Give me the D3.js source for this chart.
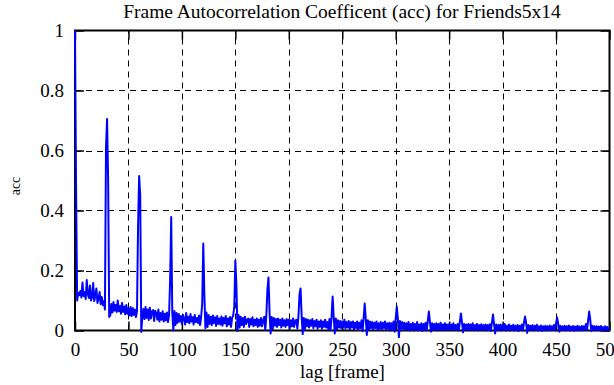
<!DOCTYPE html>
<html>
<head>
<meta charset="utf-8">
<script src="https://cdn.jsdelivr.net/npm/d3@7"></script>
<style>
  html, body { margin: 0; padding: 0; background: #fff; }
  svg { display: block; }
  text { font-family: "Liberation Serif", "Times New Roman", serif; fill: #000; }
</style>
</head>
<body>
<svg id="chart" width="614" height="385"></svg>
<script>
// ---- data ----
const title = "Frame Autocorrelation Coefficent (acc) for Friends5x14";
const xLabel = "lag [frame]";
const yLabel = "acc";
const xTicks = [0, 50, 100, 150, 200, 250, 300, 350, 400, 450, 500];
const yTicks = [0, 0.2, 0.4, 0.6, 0.8, 1];
const yTickLabels = ["0", "0.2", "0.4", "0.6", "0.8", "1"];
// acc value for lag 0, 1, 2, ... 500
const acc = [
  1.000, 0.480, 0.100, 0.125, 0.118, 0.132, 0.110, 0.160, 0.115, 0.128,
  0.105, 0.168, 0.122, 0.108, 0.150, 0.100, 0.112, 0.158, 0.098, 0.115,
  0.140, 0.092, 0.105, 0.128, 0.088, 0.112, 0.085, 0.098, 0.070, 0.610,
  0.705, 0.500, 0.045, 0.050, 0.088, 0.060, 0.095, 0.066, 0.085, 0.062,
  0.100, 0.064, 0.082, 0.056, 0.092, 0.062, 0.080, 0.054, 0.085, 0.056,
  0.074, 0.050, 0.078, 0.048, 0.075, 0.052, 0.070, 0.045, 0.065, 0.350,
  0.515, 0.450, -0.005, 0.045, 0.072, 0.038, 0.078, 0.042, 0.070, 0.035,
  0.076, 0.040, 0.064, 0.068, 0.032, 0.066, 0.058, 0.036, 0.070, 0.030,
  0.058, 0.036, 0.064, 0.030, 0.056, 0.034, 0.060, 0.028, 0.052, 0.170,
  0.378, 0.060, 0.000, 0.065, 0.018, 0.058, 0.025, 0.055, 0.030, 0.048,
  0.022, 0.052, 0.040, 0.020, 0.058, 0.028, 0.046, 0.024, 0.055, 0.030,
  0.044, 0.020, 0.052, 0.028, 0.042, 0.025, 0.050, 0.018, 0.045, 0.090,
  0.290, 0.120, 0.008, 0.060, 0.012, 0.052, 0.022, 0.046, 0.018, 0.050,
  0.025, 0.044, 0.015, 0.048, 0.022, 0.040, 0.020, 0.047, 0.016, 0.042,
  0.024, 0.048, 0.014, 0.040, 0.020, 0.045, 0.012, 0.042, 0.050, 0.080,
  0.233, 0.150, -0.002, 0.052, 0.010, 0.046, 0.018, 0.042, 0.012, 0.046,
  0.022, 0.035, 0.040, 0.012, 0.038, 0.020, 0.044, 0.014, 0.036, 0.018,
  0.040, 0.012, 0.036, 0.016, 0.042, 0.014, 0.034, 0.046, 0.002, 0.050,
  0.137, 0.177, 0.060, -0.010, 0.045, 0.005, 0.042, 0.016, 0.038, 0.012,
  0.040, 0.018, 0.036, 0.010, 0.040, 0.016, 0.034, 0.012, 0.038, 0.018,
  0.036, 0.008, 0.034, 0.014, 0.040, 0.012, 0.032, 0.036, 0.006, 0.045,
  0.120, 0.140, 0.050, -0.012, 0.042, 0.002, 0.038, 0.014, 0.036, 0.010,
  0.034, 0.016, 0.038, 0.008, 0.032, 0.014, 0.036, 0.006, 0.030, 0.012,
  0.034, 0.006, 0.030, 0.012, 0.036, 0.010, 0.028, 0.004, 0.038, 0.000,
  0.045, 0.113, 0.045, -0.010, 0.040, 0.004, 0.034, 0.010, 0.032, 0.008,
  0.030, 0.012, 0.036, 0.006, 0.028, 0.010, 0.032, 0.004, 0.028, 0.010,
  0.030, 0.004, 0.026, 0.008, 0.030, 0.002, 0.026, 0.008, 0.034, -0.002,
  0.040, 0.090, 0.040, -0.015, 0.034, 0.002, 0.030, 0.008, 0.028, 0.004,
  0.026, 0.008, 0.030, 0.002, 0.024, 0.006, 0.028, 0.002, 0.026, 0.008,
  0.030, 0.002, 0.024, 0.006, 0.026, 0.000, 0.024, 0.004, 0.030, -0.004,
  0.040, 0.080, 0.040, -0.022, 0.032, 0.000, 0.028, 0.006, 0.026, 0.002,
  0.024, 0.004, 0.028, 0.000, 0.022, 0.004, 0.026, 0.000, 0.022, 0.004,
  0.028, 0.000, 0.020, 0.002, 0.024, -0.002, 0.022, 0.004, 0.026, 0.000,
  0.030, 0.063, 0.030, -0.004, 0.024, 0.002, 0.022, 0.004, 0.024, 0.000,
  0.022, 0.004, 0.026, 0.002, 0.020, 0.004, 0.024, 0.001, 0.020, 0.004,
  0.022, 0.002, 0.020, 0.004, 0.024, 0.001, 0.018, 0.003, 0.022, 0.000,
  0.028, 0.057, 0.028, -0.006, 0.022, 0.002, 0.020, 0.004, 0.022, 0.001,
  0.020, 0.003, 0.024, 0.001, 0.018, 0.003, 0.022, 0.000, 0.018, 0.003,
  0.021, 0.001, 0.018, 0.003, 0.020, 0.000, 0.018, 0.002, 0.021, -0.002,
  0.026, 0.053, 0.022, -0.010, 0.020, 0.001, 0.018, 0.003, 0.020, 0.000,
  0.018, 0.002, 0.022, 0.000, 0.016, 0.002, 0.020, 0.000, 0.016, 0.003,
  0.019, 0.000, 0.016, 0.002, 0.018, -0.002, 0.016, 0.002, 0.020, 0.000,
  0.026, 0.047, 0.025, -0.008, 0.018, 0.001, 0.016, 0.003, 0.018, 0.000,
  0.016, 0.002, 0.019, 0.000, 0.014, 0.002, 0.017, -0.002, 0.014, 0.002,
  0.016, 0.000, 0.014, 0.002, 0.017, 0.000, 0.014, 0.002, 0.018, 0.000,
  0.024, 0.043, 0.022, -0.004, 0.016, 0.001, 0.014, 0.003, 0.016, 0.000,
  0.014, 0.002, 0.017, 0.000, 0.013, 0.002, 0.015, -0.002, 0.013, 0.002,
  0.016, 0.000, 0.013, 0.002, 0.015, 0.000, 0.014, 0.003, 0.022, 0.001,
  0.034, 0.063, 0.035, -0.002, 0.016, 0.001, 0.014, 0.002, 0.014, 0.000,
  0.013, 0.002, 0.015, 0.000, 0.012, 0.002, 0.014, 0.000, 0.012, 0.002,
  0.008
];

// ---- layout ----
const svg = d3.select("#chart");
const mLeft = 75, mRight = 609.5, mTop = 30.5, mBottom = 330.5;
const x = d3.scaleLinear().domain([0, 500]).range([mLeft, mRight]);
const y = d3.scaleLinear().domain([0, 1]).range([mBottom, mTop]);
const fontSize = 19;

// grid
const grid = svg.append("g").attr("stroke", "#000").attr("stroke-width", 1)
  .attr("stroke-dasharray", "6,5").attr("fill", "none");
grid.selectAll("line.v").data(xTicks.slice(1, -1)).enter().append("line")
  .attr("x1", d => Math.round(x(d)) + 0.5).attr("x2", d => Math.round(x(d)) + 0.5)
  .attr("y1", mBottom).attr("y2", mTop);
grid.selectAll("line.h").data(yTicks.slice(1, -1)).enter().append("line")
  .attr("y1", d => Math.round(y(d)) + 0.5).attr("y2", d => Math.round(y(d)) + 0.5)
  .attr("x1", mLeft).attr("x2", mRight);

// axes (inward ticks, mirrored)
const tickLen = 9;
const axB = d3.axisBottom(x).tickValues(xTicks).tickSize(-tickLen).tickPadding(12).tickFormat(d3.format("d"));
const axT = d3.axisTop(x).tickValues(xTicks).tickSize(-tickLen).tickFormat("");
const axL = d3.axisLeft(y).tickValues(yTicks).tickSize(-tickLen).tickPadding(11)
  .tickFormat((d, i) => yTickLabels[i]);
const axR = d3.axisRight(y).tickValues(yTicks).tickSize(-tickLen).tickFormat("");

function styleAxis(g) {
  g.attr("font-family", "Liberation Serif");
  g.select(".domain").remove();
  g.selectAll(".tick line").attr("stroke", "#000").attr("stroke-width", 1.5);
  g.selectAll(".tick text").style("font-size", fontSize + "px")
    .attr("font-family", "Liberation Serif").attr("fill", "#000");
}
svg.append("g").attr("transform", `translate(0,${mBottom})`).call(axB).call(styleAxis);
svg.append("g").attr("transform", `translate(0,${mTop})`).call(axT).call(styleAxis);
svg.append("g").attr("transform", `translate(${mLeft},0)`).call(axL).call(styleAxis);
svg.append("g").attr("transform", `translate(${mRight},0)`).call(axR).call(styleAxis);

// border
svg.append("rect").attr("x", mLeft).attr("y", mTop)
  .attr("width", mRight - mLeft).attr("height", mBottom - mTop)
  .attr("fill", "none").attr("stroke", "#000").attr("stroke-width", 2);

// series line
const line = d3.line().x((d, i) => x(i)).y(d => y(d));
svg.append("path").datum(acc).attr("d", line)
  .attr("fill", "none").attr("stroke", "#0000ff").attr("stroke-width", 2)
  .attr("stroke-linejoin", "round");

// labels
svg.append("text").attr("x", 342).attr("y", 17.5).attr("text-anchor", "middle")
  .style("font-size", "19.5px").text(title);
svg.append("text").attr("x", 342.5).attr("y", 378).attr("text-anchor", "middle")
  .style("font-size", fontSize + "px").text(xLabel);
svg.append("text").attr("transform", "translate(20,186) rotate(-90)")
  .attr("text-anchor", "middle").style("font-size", "14px").text(yLabel);
</script>
</body>
</html>
